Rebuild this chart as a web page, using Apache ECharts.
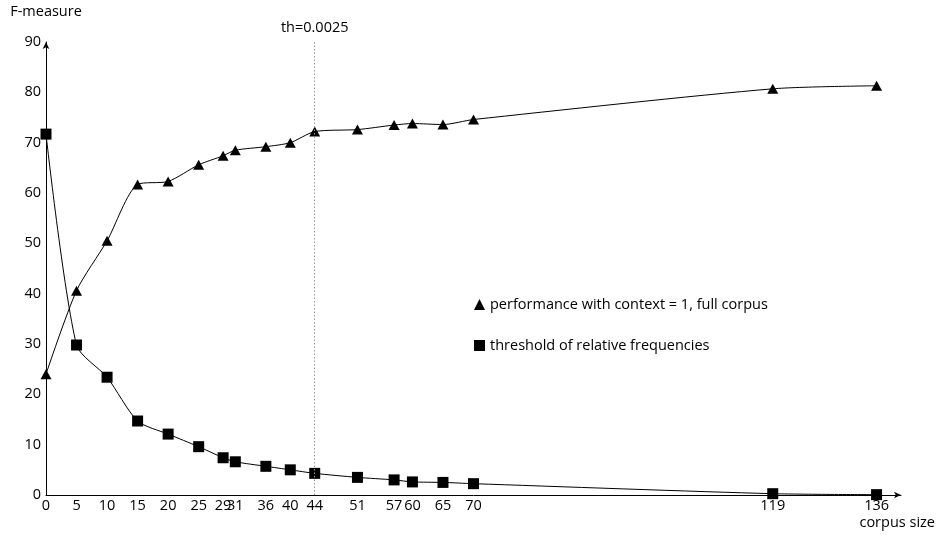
<!DOCTYPE html>
<html>
<head>
<meta charset="utf-8">
<script src="https://cdn.jsdelivr.net/npm/echarts@6/dist/echarts.min.js"></script>
<style>html,body{margin:0;padding:0;background:#fff}#c{width:938px;height:535px}</style>
</head>
<body>
<div id="c"></div>
<script>
var corpusSizes = [0, 5, 10, 15, 20, 25, 29, 31, 36, 40, 44, 51, 57, 60, 65, 70, 119, 136];
var performance = [24.0, 40.6, 50.5, 61.7, 62.3, 65.6, 67.4, 68.5, 69.2, 70.0, 72.2, 72.6, 73.5, 73.8, 73.6, 74.6, 80.7, 81.3];
var threshold = [71.7, 29.8, 23.4, 14.7, 12.1, 9.6, 7.4, 6.6, 5.7, 5.0, 4.3, 3.5, 3.0, 2.6, 2.5, 2.25, 0.26, 0.07];
var yTicks = [0, 10, 20, 30, 40, 50, 60, 70, 80, 90];
var thresholdX = 44;
var thresholdLabel = 'th=0.0025';
var perfName = 'performance with context = 1, full corpus';
var threshName = 'threshold of relative frequencies';

function pairs(xs, ys) { return xs.map(function (x, i) { return [x, ys[i]]; }); }

var FONT = 'Open Sans';
var FS = 14.5;
var chart = echarts.init(document.getElementById('c'), null, { renderer: 'canvas' });
chart.setOption({
  animation: false,
  backgroundColor: '#fff',
  textStyle: { fontFamily: FONT, color: '#000' },
  grid: { left: 46, top: 42, right: 35, bottom: 40, containLabel: false },
  legend: {
    orient: 'vertical',
    left: 469,
    top: 292,
    itemWidth: 11,
    itemHeight: 11,
    itemGap: 26,
    itemTextGap: 6,
    textStyle: { fontFamily: FONT, fontSize: FS, color: '#000' },
    data: [
      { name: perfName, icon: 'triangle' },
      { name: threshName, icon: 'rect' }
    ]
  },
  xAxis: {
    type: 'value',
    min: 0,
    max: 140,
    name: 'corpus size',
    nameLocation: 'end',
    nameGap: 34,
    nameTextStyle: { fontFamily: FONT, fontSize: FS, color: '#000', align: 'right', verticalAlign: 'top', padding: [20, 0, 0, 0] },
    splitLine: { show: false },
    axisTick: { show: false },
    axisLine: { show: true, lineStyle: { color: '#000', width: 1 }, symbol: ['none', 'arrow'], symbolSize: [5, 7] },
    axisLabel: { customValues: corpusSizes, color: '#000', fontFamily: FONT, fontSize: FS, margin: 3, hideOverlap: false, showMinLabel: true, showMaxLabel: true }
  },
  yAxis: {
    type: 'value',
    min: 0,
    max: 90,
    interval: 10,
    name: 'F-measure',
    nameLocation: 'end',
    nameGap: 30,
    nameTextStyle: { fontFamily: FONT, fontSize: FS, color: '#000', align: 'center', verticalAlign: 'middle' },
    splitLine: { show: false },
    axisTick: { show: false },
    axisLine: { show: true, lineStyle: { color: '#000', width: 1 }, symbol: ['none', 'arrow'], symbolSize: [5, 7] },
    axisLabel: { customValues: yTicks, color: '#000', fontFamily: FONT, fontSize: FS, margin: 5 }
  },
  series: [
    {
      name: perfName,
      type: 'line',
      smooth: 0.25,
      data: pairs(corpusSizes, performance),
      symbol: 'triangle',
      symbolSize: [11, 10],
      showAllSymbol: true,
      lineStyle: { color: '#000', width: 1 },
      itemStyle: { color: '#000' },
      z: 3,
      markLine: {
        silent: true,
        symbol: ['none', 'none'],
        lineStyle: { color: '#999', type: [1.5, 2], width: 1 },
        label: { show: true, position: 'end', formatter: thresholdLabel, color: '#000', fontFamily: FONT, fontSize: FS, distance: 7 },
        data: [{ xAxis: thresholdX }]
      }
    },
    {
      name: threshName,
      type: 'line',
      smooth: 0.25,
      data: pairs(corpusSizes, threshold),
      symbol: 'rect',
      symbolSize: 11,
      showAllSymbol: true,
      lineStyle: { color: '#000', width: 1 },
      itemStyle: { color: '#000' },
      z: 4
    }
  ]
});
</script>
</body>
</html>
